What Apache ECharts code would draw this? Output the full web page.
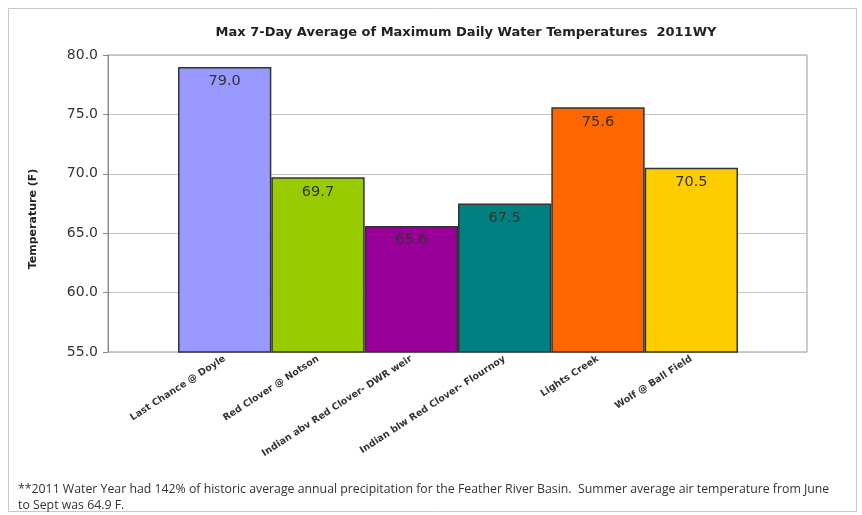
<!DOCTYPE html>
<html>
<head>
<meta charset="utf-8">
<script src="https://cdn.jsdelivr.net/npm/echarts@6/dist/echarts.min.js"></script>
<style>html,body{margin:0;padding:0;background:#fff;}#c{width:862px;height:515px;}</style>
</head>
<body>
<div id="c"></div>
<script>
var categories = ["Last Chance @ Doyle", "Red Clover @ Notson", "Indian abv Red Clover- DWR weir", "Indian blw Red Clover- Flournoy", "Lights Creek", "Wolf @ Ball Field"];
var temps = [79.0, 69.7, 65.6, 67.5, 75.6, 70.5];
var barColors = ["#9999FF", "#99CC00", "#990099", "#008080", "#FF6600", "#FFCC00"];
var yTicks = [55, 60, 65, 70, 75, 80];
var titleText = "Max 7-Day Average of Maximum Daily Water Temperatures  2011WY";
var yName = "Temperature (F)";
var footnote = "**2011 Water Year had 142% of historic average annual precipitation for the Feather River Basin.  Summer average air temperature from June\nto Sept was 64.9 F.";

var chart = echarts.init(document.getElementById('c'), null, {renderer: 'canvas'});
var barData = temps.map(function (v, i) {
  return {value: v, itemStyle: {color: barColors[i]}};
});
chart.setOption({
  animation: false,
  backgroundColor: '#fff',
  title: {
    text: titleText,
    left: 461, textAlign: 'center', top: 21,
    textStyle: {fontFamily: 'DejaVu Sans', fontSize: 13, fontWeight: 'bold', color: '#222'}
  },
  graphic: [
    {type: 'rect', shape: {x: 8.5, y: 8.5, width: 848, height: 503}, style: {fill: 'none', stroke: '#c8c8c8', lineWidth: 1}, silent: true},
    {type: 'text', x: 33, y: 219, rotation: Math.PI / 2,
     style: {text: yName, font: 'bold 11px "DejaVu Sans"', fill: '#222', align: 'center', verticalAlign: 'middle'}},
    {type: 'text', left: 18, top: 481, style: {text: footnote, font: '12.3px "Open Sans"', fill: '#333', lineHeight: 16}}
  ],
  grid: [
    {left: 108, right: 55, top: 55, bottom: 163, show: true, borderColor: '#999', borderWidth: 1, backgroundColor: 'transparent'},
    {left: 178, right: 124, top: 55, bottom: 163}
  ],
  xAxis: [
    {type: 'category', gridIndex: 0, data: [''], show: false},
    {type: 'category', gridIndex: 1, data: categories,
     axisLine: {show: false}, axisTick: {show: false},
     axisLabel: {interval: 0, rotate: 33, margin: 6, fontFamily: 'DejaVu Sans', fontSize: 9.5, fontWeight: 'bold', color: '#333'}}
  ],
  yAxis: [
    {type: 'value', gridIndex: 0, min: yTicks[0], max: yTicks[yTicks.length - 1], interval: 5,
     axisLine: {show: true, lineStyle: {color: '#888'}},
     axisTick: {show: true, length: 5, lineStyle: {color: '#888'}},
     axisLabel: {margin: 10, fontFamily: 'DejaVu Sans', fontSize: 14, color: '#333', formatter: function (v) { return v.toFixed(1); }},
     splitLine: {show: true, lineStyle: {color: '#c4c4c4', width: 1}}},
    {type: 'value', gridIndex: 1, min: yTicks[0], max: yTicks[yTicks.length - 1], interval: 5, show: false, splitLine: {show: false}}
  ],
  series: [{
    type: 'bar', xAxisIndex: 1, yAxisIndex: 1,
    data: barData, barCategoryGap: '0%',
    itemStyle: {borderColor: '#333', borderWidth: 1.5},
    label: {show: true, position: 'insideTop', distance: 7, fontFamily: 'DejaVu Sans', fontSize: 14.5, color: '#333',
      formatter: function (p) { return p.value.toFixed(1); }}
  }]
});
</script>
</body>
</html>
